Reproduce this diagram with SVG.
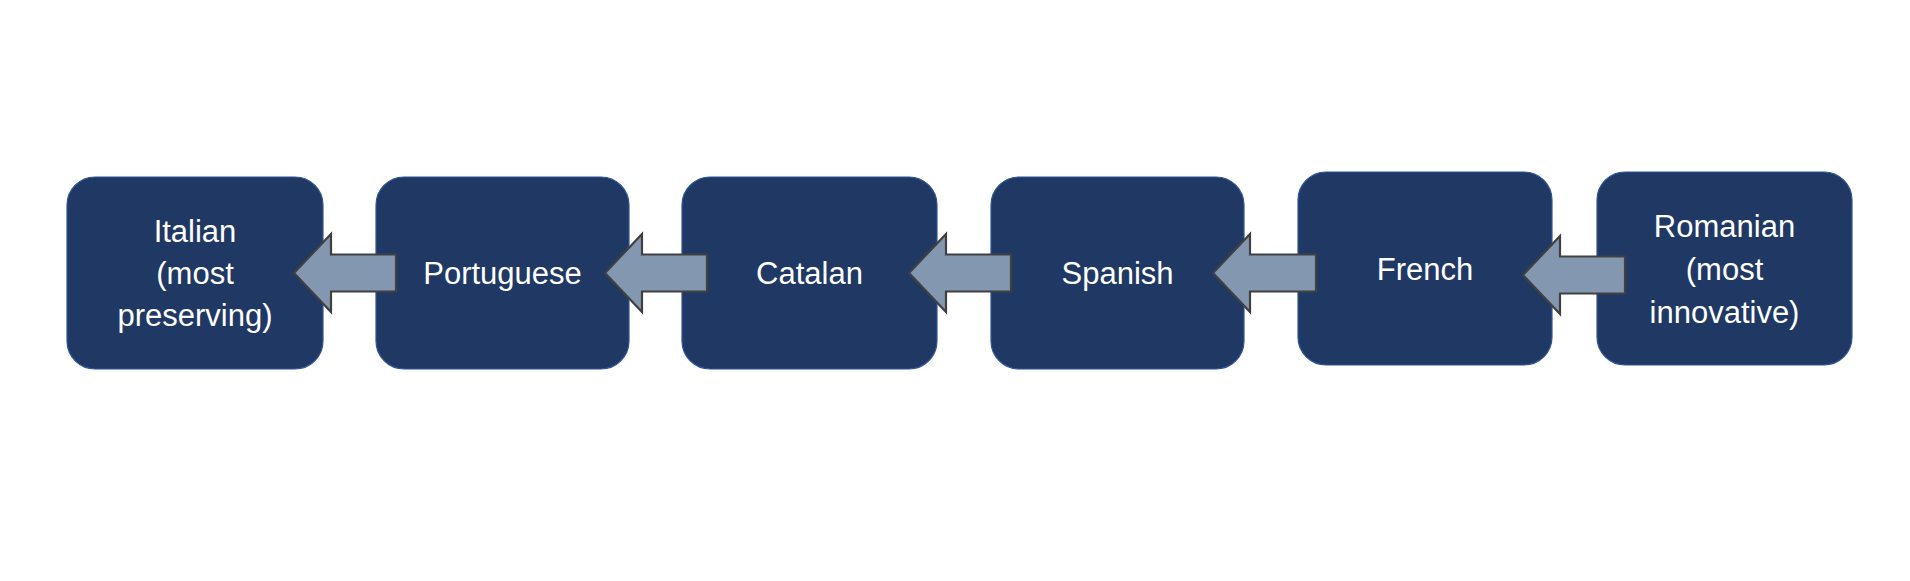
<svg xmlns="http://www.w3.org/2000/svg" width="1910" height="581" viewBox="0 0 1910 581">
<style>
.box{fill:#203864;stroke:#2F5597;stroke-width:1.2}
.lbl{fill:#FFFFFF;font-family:"Liberation Sans",Arial,sans-serif;font-size:31px;text-anchor:middle}
.arr{fill:#8497B0;stroke:#404040;stroke-width:2.2;stroke-linejoin:miter}
</style>
<rect width="1910" height="581" fill="#FFFFFF"/>
<g id="italian">
<rect class="box" x="67" y="177" width="256" height="192" rx="28"/>
<text class="lbl" x="195" y="242">Italian</text>
<text class="lbl" x="195" y="284">(most</text>
<text class="lbl" x="195" y="326">preserving)</text>
</g>
<g id="portuguese">
<rect class="box" x="376" y="177" width="253" height="192" rx="28"/>
<text class="lbl" x="502.5" y="284">Portuguese</text>
</g>
<g id="catalan">
<rect class="box" x="682" y="177" width="255" height="192" rx="28"/>
<text class="lbl" x="809.5" y="284">Catalan</text>
</g>
<g id="spanish">
<rect class="box" x="991" y="177" width="253" height="192" rx="28"/>
<text class="lbl" x="1117.5" y="284">Spanish</text>
</g>
<g id="french">
<rect class="box" x="1298" y="172" width="254" height="193" rx="28"/>
<text class="lbl" x="1425" y="280">French</text>
</g>
<g id="romanian">
<rect class="box" x="1597" y="172" width="255" height="193" rx="28"/>
<text class="lbl" x="1724.5" y="237">Romanian</text>
<text class="lbl" x="1724.5" y="280">(most</text>
<text class="lbl" x="1724.5" y="323">innovative)</text>
</g>
<g id="connectors">
<polygon class="arr" points="294,273 331,234 331,254.5 396,254.5 396,291.5 331,291.5 331,312"/>
<polygon class="arr" points="605,273 642,234 642,254.5 707,254.5 707,291.5 642,291.5 642,312"/>
<polygon class="arr" points="909,273 946,234 946,254.5 1011,254.5 1011,291.5 946,291.5 946,312"/>
<polygon class="arr" points="1213,273 1250,234 1250,254.5 1316,254.5 1316,291.5 1250,291.5 1250,312"/>
<polygon class="arr" points="1523,275 1560,236 1560,256.5 1625,256.5 1625,293.5 1560,293.5 1560,314"/>
</g>
</svg>
